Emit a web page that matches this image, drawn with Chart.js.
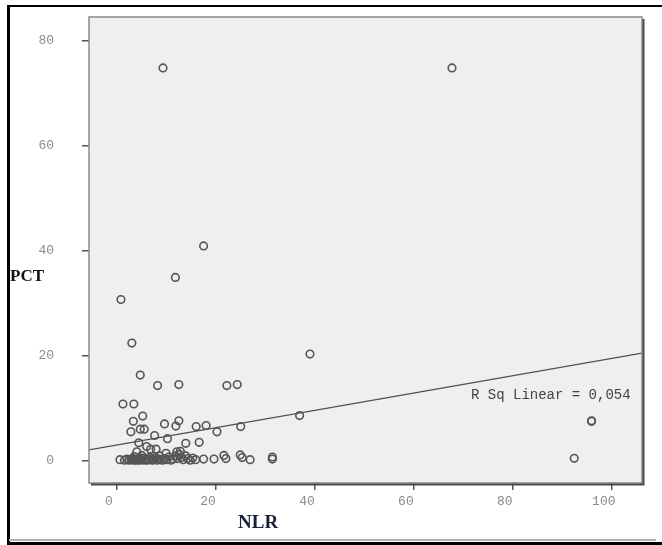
<!DOCTYPE html>
<html>
<head>
<meta charset="utf-8">
<script src="https://cdn.jsdelivr.net/npm/chart.js@4/dist/chart.umd.min.js"></script>
<style>
  html, body { margin: 0; padding: 0; background: #fff; }
  #wrap { position: relative; width: 662px; height: 545px; }
  #chart { position: absolute; left: 0; top: 0; }
  .lbl { position: absolute; white-space: nowrap; }
  #yTitle { left: 10px; top: 266px; font: bold 17px "Liberation Serif", serif; color: #111; }
  #xTitle { left: 238px; top: 511px; font: bold 19px "Liberation Serif", serif; color: #1a1f3a; }
  #rsq { left: 471px; top: 387px; font: 14px "Liberation Mono", monospace; color: #444; }
</style>
</head>
<body>
<div id="wrap">
  <canvas id="chart" width="662" height="545"></canvas>
  <div class="lbl" id="yTitle">PCT</div>
  <div class="lbl" id="xTitle">NLR</div>
  <div class="lbl" id="rsq">R Sq Linear = 0,054</div>
</div>
<script>
// axis settings
const xTicks = [0, 20, 40, 60, 80, 100];
const yTicks = [0, 20, 40, 60, 80];
const xMin = -5.66, xMax = 106.1;
const yMin = -4.25, yMax = 84.5;

// NLR / PCT pairs (estimated from the scatter)
const nlr = [
  9.3, 67.7, 17.5, 11.8, 0.8, 3.0, 39.0, 4.7, 8.2, 12.5,
  22.2, 24.3, 1.2, 3.4, 5.2, 36.9, 3.3, 9.6, 12.5, 11.9,
  16.0, 18.0, 25.0, 95.9, 95.9, 2.8, 4.7, 5.5, 20.2, 7.6,
  10.2, 4.4, 13.9, 16.6, 6.0, 6.8, 7.9, 4.0, 12.1, 9.9,
  12.8, 21.6, 24.9, 92.4, 31.4, 31.4, 17.5, 19.6, 22.0, 25.3,
  26.9,
  0.6, 1.5, 2.0, 2.4, 2.8, 3.1, 3.3, 3.6, 3.9, 4.2,
  4.5, 4.8, 5.1, 5.4, 5.8, 6.1, 6.4, 6.8, 7.1, 7.4,
  7.8, 8.1, 8.4, 8.8, 9.2, 9.6, 10.0, 10.5, 10.9, 11.3,
  11.8, 12.2, 12.6, 13.0, 13.4, 13.9, 14.3, 14.8, 15.3, 15.9,
  3.5, 5.0, 8.6, 6.6
];
const pct = [
  74.8, 74.8, 40.9, 34.9, 30.7, 22.4, 20.3, 16.3, 14.3, 14.5,
  14.3, 14.5, 10.8, 10.8, 8.5, 8.6, 7.5, 7.0, 7.6, 6.6,
  6.5, 6.7, 6.5, 7.6, 7.5, 5.5, 6.0, 6.0, 5.5, 4.8,
  4.2, 3.4, 3.3, 3.5, 2.7, 2.2, 2.2, 1.7, 1.7, 1.4,
  1.8, 1.0, 1.1, 0.45, 0.3, 0.7, 0.3, 0.3, 0.4, 0.6,
  0.2,
  0.2, 0.1, 0.3, 0.1, 0.2, 0.4, 0.1, 0.2, 0.1, 0.3,
  0.1, 0.2, 0.5, 0.1, 0.3, 0.1, 0.2, 0.4, 0.1, 0.2,
  0.6, 0.1, 0.3, 0.2, 0.1, 0.4, 0.2, 0.7, 0.1, 0.3,
  0.9, 0.4, 1.2, 0.6, 0.2, 0.9, 0.4, 0.1, 0.5, 0.2,
  0.8, 1.0, 0.9, 0.7
];

// fit line end points (R Sq Linear = 0,054)
const fitX = [-5.66, 106.1];
const fitY = [2.04, 20.5];

const points = nlr.map((v, i) => ({ x: v, y: pct[i] }));
const fitLine = fitX.map((v, i) => ({ x: v, y: fitY[i] }));

const tickFont = { family: 'Liberation Mono', size: 13 };

// background, plot frame and outer page frame
const framePlugin = {
  id: 'frames',
  beforeDatasetsDraw(chart) {
    const { ctx, chartArea: a } = chart;
    ctx.save();
    ctx.fillStyle = '#efefef';
    ctx.fillRect(a.left, a.top, a.right - a.left, a.bottom - a.top);
    ctx.restore();
  },
  afterDraw(chart) {
    const { ctx, chartArea: a } = chart;
    ctx.save();
    // plot border
    ctx.strokeStyle = '#8a8a8a';
    ctx.lineWidth = 1.5;
    ctx.strokeRect(a.left, a.top, a.right - a.left, a.bottom - a.top);
    ctx.strokeStyle = '#4a4a4a';
    ctx.lineWidth = 2;
    ctx.beginPath();
    ctx.moveTo(a.right + 1.5, a.top + 2);
    ctx.lineTo(a.right + 1.5, a.bottom + 1.5);
    ctx.lineTo(a.left + 2, a.bottom + 1.5);
    ctx.stroke();
    // outer frame
    ctx.fillStyle = '#000';
    ctx.fillRect(7, 5, 3, 540);
    ctx.fillRect(7, 5, 655, 2);
    ctx.fillRect(7, 542, 655, 3);
    ctx.fillStyle = '#b0b0b0';
    ctx.fillRect(9, 539, 647, 2);
    ctx.restore();
  }
};

new Chart(document.getElementById('chart'), {
  type: 'scatter',
  data: {
    datasets: [
      {
        type: 'line',
        data: fitLine,
        borderColor: '#505050',
        borderWidth: 1.3,
        pointRadius: 0,
        fill: false
      },
      {
        data: points,
        pointStyle: 'circle',
        pointRadius: 3.8,
        borderWidth: 1.6,
        borderColor: '#555',
        backgroundColor: 'rgba(0,0,0,0)'
      }
    ]
  },
  options: {
    responsive: false,
    animation: false,
    devicePixelRatio: 1,
    layout: { padding: { left: 0, top: 17, right: 20, bottom: 0 } },
    plugins: { legend: { display: false }, tooltip: { enabled: false } },
    scales: {
      x: {
        type: 'linear',
        min: xMin,
        max: xMax,
        afterBuildTicks: s => { s.ticks = xTicks.map(v => ({ value: v })); },
        afterFit: s => { s.height = 62; },
        ticks: { font: tickFont, color: '#8a8a8a', padding: 4, labelOffset: -8, maxRotation: 0 },
        grid: { drawOnChartArea: false, tickLength: 7, color: '#555', lineWidth: 1.5 },
        border: { display: false }
      },
      y: {
        type: 'linear',
        min: yMin,
        max: yMax,
        afterBuildTicks: s => { s.ticks = yTicks.map(v => ({ value: v })); },
        // fixed width, and no extra top/bottom padding for the labels
        afterFit: s => { s.width = 89; s.paddingTop = 0; s.paddingBottom = 0; },
        ticks: { font: tickFont, color: '#8a8a8a', padding: 28 },
        grid: { drawOnChartArea: false, tickLength: 7, color: '#555', lineWidth: 1.5 },
        border: { display: false }
      }
    }
  },
  plugins: [framePlugin]
});
</script>
</body>
</html>
